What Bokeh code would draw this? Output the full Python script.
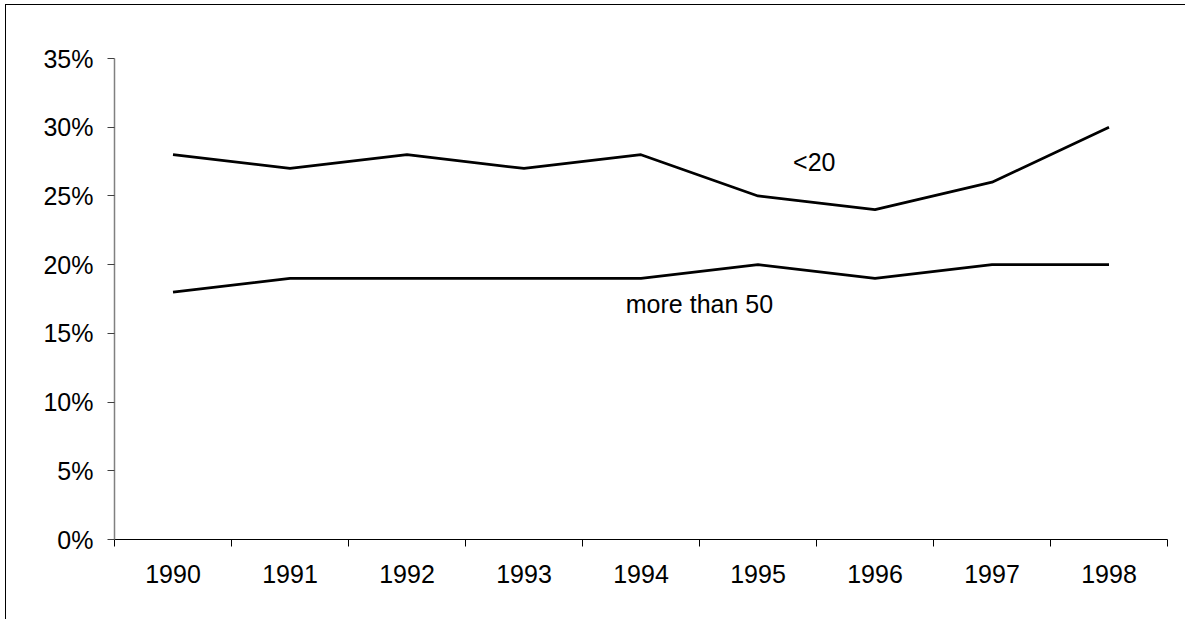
from bokeh.plotting import figure
from bokeh.models import FixedTicker, NumeralTickFormatter, Range1d
from bokeh.core.properties import value
from bokeh.embed import file_html
from bokeh.resources import INLINE

years = ["1990", "1991", "1992", "1993", "1994", "1995", "1996", "1997", "1998"]
under_20 = [0.28, 0.27, 0.28, 0.27, 0.28, 0.25, 0.24, 0.26, 0.30]
more_than_50 = [0.18, 0.19, 0.19, 0.19, 0.19, 0.20, 0.19, 0.20, 0.20]
y_ticks = [0.0, 0.05, 0.10, 0.15, 0.20, 0.25, 0.30, 0.35]

xs = [i + 0.5 for i in range(len(years))]
FONT = "Liberation Sans"

p = figure(width=1180, height=615, output_backend="svg", toolbar_location=None,
           x_range=Range1d(0, len(years)), y_range=Range1d(0, 0.35),
           min_border_left=108, min_border_right=19, min_border_top=53, min_border_bottom=81)
p.styles = {"border-top": "1px solid black", "border-left": "1px solid black",
            "margin-left": "5px", "margin-top": "4px"}
p.outline_line_color = None
p.xgrid.grid_line_color = None
p.ygrid.grid_line_color = None
p.background_fill_color = "white"

p.line(xs, under_20, line_color="black", line_width=2.7)
p.line(xs, more_than_50, line_color="black", line_width=2.7)

p.text(x=[5.80], y=[0.275], text=["<20"], text_align="left", text_baseline="middle",
       text_font=value(FONT), text_font_size="25px", text_color="black")
p.text(x=[4.37], y=[0.171], text=["more than 50"], text_align="left", text_baseline="middle",
       text_font=value(FONT), text_font_size="25px", text_color="black")

# x axis
p.xaxis.ticker = FixedTicker(ticks=xs, minor_ticks=list(range(len(years) + 1)))
p.xaxis.major_label_overrides = {x: y for x, y in zip(xs, years)}
p.xaxis.major_tick_out = 0
p.xaxis.major_tick_in = 0
p.xaxis.minor_tick_out = 7
p.xaxis.minor_tick_in = 0
p.xaxis.minor_tick_line_color = "black"
p.xaxis.axis_line_color = "black"
p.xaxis.axis_line_width = 1
p.xaxis.major_label_standoff = 18
p.xaxis.major_label_text_font = FONT
p.xaxis.major_label_text_font_size = "25px"
p.xaxis.major_label_text_color = "black"

# y axis
p.yaxis.ticker = FixedTicker(ticks=y_ticks, minor_ticks=[])
p.yaxis.formatter = NumeralTickFormatter(format="0%")
p.yaxis.major_tick_out = 7
p.yaxis.major_tick_in = 0
p.yaxis.major_tick_line_color = "#404040"
p.yaxis.axis_line_color = "#808080"
p.yaxis.axis_line_width = 1.5
p.yaxis.major_label_standoff = 14
p.yaxis.major_label_text_font = FONT
p.yaxis.major_label_text_font_size = "25px"
p.yaxis.major_label_text_color = "black"

open("out.html", "w").write(file_html(p, INLINE))
